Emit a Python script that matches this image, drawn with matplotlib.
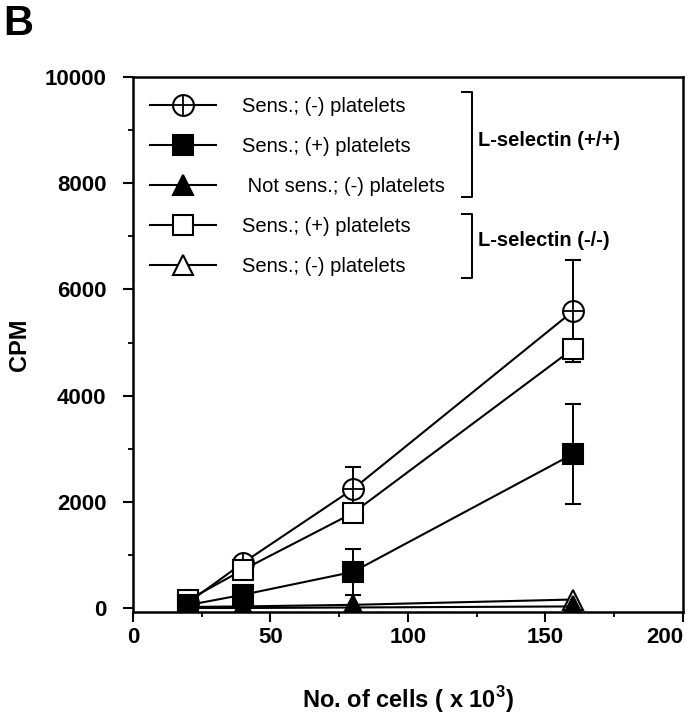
#!/usr/bin/env python

import matplotlib
matplotlib.use("Agg")
import matplotlib.pyplot as plt
from matplotlib.lines import Line2D
from matplotlib.ticker import MultipleLocator

plt.rcParams["font.family"] = ["Liberation Sans", "DejaVu Sans"]

# cell numbers (x 10^3)
cells = [20, 40, 80, 160]

# L-selectin (+/+)
sens_minus = [100, 850, 2240, 5590]
sens_minus_err = [0, 60, 420, 960]
sens_plus = [55, 250, 680, 2900]
sens_plus_err = [0, 0, 430, 940]
notsens_minus = [0, 0, 10, 30]

# L-selectin (-/-)
ko_sens_plus = [150, 720, 1790, 4880]
ko_sens_plus_err = [0, 150, 0, 0]
ko_sens_minus = [20, 30, 60, 160]

xticks = [0, 50, 100, 150, 200]
yticks = [0, 2000, 4000, 6000, 8000, 10000]


def main() -> int:
    fig = plt.figure(figsize=(6.88, 7.2), dpi=100)
    ax = fig.add_axes([0.1933, 0.15, 0.7994, 0.743])

    ms = 15
    common = dict(color="black", lw=1.5, ms=ms, mew=1.5, capsize=6,
                  elinewidth=1.4, capthick=1.4)

    ax.errorbar(cells, sens_minus, yerr=sens_minus_err, marker="o",
                mfc="white", mec="black", zorder=3, **common)
    # the cross inside the circles
    ax.plot(cells, sens_minus, ls="none", marker="+", ms=ms, mew=1.3,
            color="black", zorder=3.1)
    h2 = ax.errorbar(cells, sens_plus, yerr=sens_plus_err, marker="s",
                     mfc="black", mec="black", zorder=5, **common)
    h3 = ax.errorbar(cells, notsens_minus, marker="^", mfc="black",
                     mec="black", zorder=6, **common)
    h4 = ax.errorbar(cells, ko_sens_plus, yerr=ko_sens_plus_err, marker="s",
                     mfc="white", mec="black", zorder=4, **common)
    h5 = ax.errorbar(cells, ko_sens_minus, marker="^", mfc="white",
                     mec="black", zorder=4.5, **common)

    # legend handle for the crossed circle
    circ = (Line2D([], [], color="black", lw=1.5, marker="o", ms=ms,
                   mfc="white", mec="black", mew=1.5),
            Line2D([], [], ls="none", marker="+", ms=ms, mew=1.3,
                   color="black"))

    labels = ["Sens.; (-) platelets", "Sens.; (+) platelets",
              " Not sens.; (-) platelets", "Sens.; (+) platelets",
              "Sens.; (-) platelets"]
    ax.legend([circ, h2[0], h3[0], h4[0], h5[0]], labels,
              loc="upper left", bbox_to_anchor=(0.031, 0.963),
              frameon=False, fontsize=14.5, handlelength=3.3,
              handletextpad=1.25, labelspacing=1.05, borderaxespad=0,
              borderpad=0)

    # brackets grouping the legend entries
    tr = ax.transAxes
    for top, bot in [(0.972, 0.776), (0.744, 0.624)]:
        ax.plot([0.598, 0.616, 0.616, 0.598], [top, top, bot, bot],
                color="black", lw=1.4, transform=tr, clip_on=False)
    ax.text(0.628, 0.882, "L-selectin (+/+)", transform=tr, fontsize=14.5,
            fontweight="bold", va="center", ha="left")
    ax.text(0.628, 0.695, "L-selectin (-/-)", transform=tr, fontsize=14.5,
            fontweight="bold", va="center", ha="left")

    ax.set_xlim(0, 200)
    ax.set_ylim(-75, 10000)
    ax.set_xticks(xticks)
    ax.set_yticks(yticks)
    ax.xaxis.set_minor_locator(MultipleLocator(25))
    ax.yaxis.set_minor_locator(MultipleLocator(1000))
    ax.tick_params(which="major", direction="out", length=7, width=1.5,
                   labelsize=16)
    ax.tick_params(axis="y", which="major", pad=12)
    ax.tick_params(axis="x", which="major", pad=4)
    ax.tick_params(which="minor", direction="out", length=3.5, width=1.3)
    for lab in ax.get_xticklabels() + ax.get_yticklabels():
        lab.set_fontweight("bold")
    # keep the last x label inside the picture
    ax.get_xticklabels()[-1].set_ha("right")
    ax.get_xticklabels()[-1].set_x(205)
    for sp in ax.spines.values():
        sp.set_linewidth(1.8)

    ax.set_xlabel("No. of cells ( x 10$^\\mathregular{3}$)", fontsize=17,
                  fontweight="bold", labelpad=26)
    ax.set_ylabel("CPM", fontsize=17, fontweight="bold", labelpad=10)
    fig.text(0.005, 0.995, "B", fontsize=30, fontweight="bold",
             va="top", ha="left")

    fig.savefig("out.png", dpi=100)
    return 0


if __name__ == "__main__":
    main()
